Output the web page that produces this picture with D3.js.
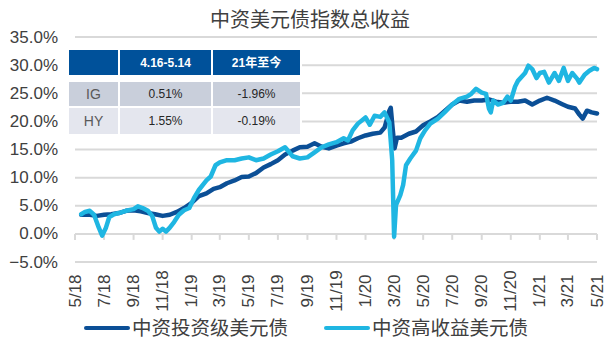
<!DOCTYPE html>
<html><head><meta charset="utf-8">
<script src="https://cdn.jsdelivr.net/npm/d3@7"></script>
<style>body{margin:0;background:#fff}svg{display:block}</style>
</head><body><svg id="c" width="613" height="341"></svg>
<script>
const title = "中资美元债指数总收益";
const seriesNames = ["中资投资级美元债", "中资高收益美元债"];
const yTicks = [-5, 0, 5, 10, 15, 20, 25, 30, 35];
const xTickLabels = ["5/18","7/18","9/18","11/18","1/19","3/19","5/19","7/19","9/19","11/19","1/20","3/20","5/20","7/20","9/20","11/20","1/21","3/21","5/21"];
const tableHeader = ["", "4.16-5.14", "21年至今"];
const tableRowIG = ["IG", "0.51%", "-1.96%"];
const tableRowHY = ["HY", "1.55%", "-0.19%"];

const igDates = ["2018-05-14","2018-06-01","2018-06-16","2018-07-01","2018-07-16","2018-08-01","2018-08-16","2018-09-01","2018-09-16","2018-10-01","2018-10-16","2018-11-01","2018-11-16","2018-12-01","2018-12-16","2019-01-01","2019-01-16","2019-02-01","2019-02-16","2019-03-01","2019-03-16","2019-04-01","2019-04-16","2019-05-01","2019-05-16","2019-06-01","2019-06-16","2019-07-01","2019-07-16","2019-08-01","2019-08-16","2019-09-01","2019-09-16","2019-10-01","2019-10-16","2019-11-01","2019-11-16","2019-12-01","2019-12-16","2020-01-01","2020-01-16","2020-02-01","2020-02-10","2020-02-20","2020-02-23","2020-02-27","2020-03-02","2020-03-07","2020-03-16","2020-04-01","2020-04-16","2020-05-01","2020-05-16","2020-06-01","2020-06-16","2020-07-01","2020-07-16","2020-08-01","2020-08-16","2020-09-01","2020-09-16","2020-10-01","2020-10-16","2020-11-01","2020-11-16","2020-12-01","2020-12-16","2021-01-01","2021-01-16","2021-02-01","2021-02-16","2021-03-01","2021-03-16","2021-03-25","2021-04-01","2021-04-10","2021-04-20","2021-05-01"];
const igValues = [3.4,3.4,3.2,3.4,3.5,3.7,4.1,4.2,4.0,3.7,3.5,3.2,3.4,3.9,4.6,5.5,6.7,7.2,8.0,8.3,9.0,9.5,10.1,10.2,10.8,11.8,12.4,13.1,14.1,14.8,15.4,15.5,16.1,15.5,15.2,15.7,16.1,16.4,17.0,17.5,17.8,18.0,18.9,21.9,22.4,18.7,15.2,17.1,17.1,17.8,18.2,19.3,20.0,20.8,21.9,23.0,23.7,23.5,23.7,23.7,23.9,23.5,23.3,23.5,23.5,23.7,23.0,23.7,24.2,23.7,23.1,22.6,22.3,21.2,20.5,21.9,21.6,21.4];

const hyDates = ["2018-05-14","2018-05-22","2018-06-01","2018-06-10","2018-06-20","2018-06-27","2018-07-05","2018-07-12","2018-07-22","2018-08-01","2018-08-16","2018-09-01","2018-09-10","2018-09-20","2018-10-01","2018-10-10","2018-10-18","2018-10-25","2018-11-01","2018-11-08","2018-11-16","2018-11-25","2018-12-05","2018-12-16","2018-12-27","2019-01-06","2019-01-16","2019-02-01","2019-02-10","2019-02-20","2019-03-01","2019-03-16","2019-04-01","2019-04-16","2019-05-01","2019-05-16","2019-06-01","2019-06-16","2019-07-01","2019-07-16","2019-08-01","2019-08-16","2019-09-01","2019-09-16","2019-10-01","2019-10-16","2019-11-01","2019-11-16","2019-11-25","2019-12-05","2019-12-16","2020-01-01","2020-01-10","2020-01-20","2020-02-01","2020-02-10","2020-02-20","2020-02-26","2020-03-01","2020-03-05","2020-03-14","2020-03-20","2020-03-26","2020-04-04","2020-04-16","2020-04-25","2020-05-05","2020-05-16","2020-06-01","2020-06-16","2020-07-01","2020-07-16","2020-08-01","2020-08-10","2020-08-20","2020-09-01","2020-09-10","2020-09-16","2020-09-20","2020-09-25","2020-10-05","2020-10-16","2020-10-25","2020-11-01","2020-11-10","2020-11-16","2020-12-01","2020-12-08","2020-12-16","2020-12-25","2021-01-01","2021-01-10","2021-01-20","2021-02-01","2021-02-10","2021-02-20","2021-03-01","2021-03-10","2021-03-20","2021-03-25","2021-04-05","2021-04-15","2021-04-25","2021-05-01"];
const hyValues = [3.5,3.9,4.1,3.4,1.1,-0.3,1.1,3.0,3.5,3.7,4.1,4.4,4.9,4.6,4.1,3.2,1.1,0.4,0.9,0.4,1.1,2.1,3.4,4.2,4.6,6.4,7.8,9.5,10.2,12.2,12.7,13.1,13.1,13.4,13.6,13.1,13.4,14.1,14.7,15.4,13.8,13.4,13.6,14.5,15.4,15.9,16.3,17.0,16.6,18.4,19.6,20.7,19.4,21.0,20.8,21.6,19.8,13.1,-0.5,5.1,6.9,8.7,12.2,13.4,14.8,17.0,18.4,19.6,20.5,21.7,23.0,24.0,24.4,24.9,25.8,25.1,24.9,22.3,21.6,23.7,23.0,23.3,24.4,23.7,26.2,27.2,28.6,29.9,29.3,27.7,28.6,28.8,26.9,28.6,27.2,29.5,27.2,28.6,27.6,26.9,28.3,29.0,29.5,29.3];

const colors = ["#0b4f96", "#1fb6e2"];
const parse = d3.timeParse("%Y-%m-%d");
const svg = d3.select("#c");
const font = "'Liberation Sans', Arial, sans-serif";
const cjk = "'Noto Sans CJK SC', sans-serif";

const x = d3.scaleTime().domain([parse("2018-05-01"), parse("2021-05-01")]).range([75, 597]);
const y = d3.scaleLinear().domain([-5, 35]).range([262, 37]);
const xTickDates = xTickLabels.map(s => { const [m, yy] = s.split("/"); return new Date(2000 + +yy, +m - 1, 1); });

svg.append("text").attr("x", 310).attr("y", 18).attr("text-anchor", "middle").attr("dominant-baseline", "central")
  .attr("font-family", cjk).attr("font-size", 20).attr("fill", "#404040").text(title);

svg.append("g").selectAll("line").data(yTicks).join("line")
  .attr("x1", 75).attr("x2", 597).attr("y1", d => y(d)).attr("y2", d => y(d))
  .attr("stroke", "#d9d9d9").attr("stroke-width", 2);

svg.append("g").selectAll("text").data(yTicks).join("text")
  .attr("x", 58).attr("y", d => y(d)).attr("text-anchor", "end").attr("dominant-baseline", "central")
  .attr("font-family", font).attr("font-size", 17).attr("fill", "#404040")
  .text(d => d3.format(".1f")(d) + "%");

svg.append("g").selectAll("line").data(xTickDates).join("line")
  .attr("x1", d => x(d)).attr("x2", d => x(d)).attr("y1", y(0)).attr("y2", y(0) + 6)
  .attr("stroke", "#d9d9d9").attr("stroke-width", 2);

svg.append("g").selectAll("text").data(xTickDates).join("text")
  .attr("transform", d => `translate(${x(d)},291) rotate(-90)`)
  .attr("text-anchor", "middle").attr("dominant-baseline", "central")
  .attr("font-family", font).attr("font-size", 17).attr("fill", "#404040")
  .text((d, i) => xTickLabels[i]);

const line = d3.line().x(d => x(d[0])).y(d => y(d[1])).curve(d3.curveLinear);
const igData = igDates.map((d, i) => [parse(d), igValues[i]]);
const hyData = hyDates.map((d, i) => [parse(d), hyValues[i]]);
[igData, hyData].forEach((data, i) => {
  svg.append("path").datum(data).attr("d", line).attr("fill", "none")
    .attr("stroke", colors[i]).attr("stroke-width", 4.5)
    .attr("stroke-linejoin", "round").attr("stroke-linecap", "round");
});

const tbl = svg.append("g");
tbl.append("rect").attr("x", 67).attr("y", 48).attr("width", 235).attr("height", 89).attr("fill", "#fff");
const colX = [[69, 118], [120, 211], [213, 300]];
const rows = [
  {cells: tableHeader, y0: 50, y1: 75, bg: "#00519a", color: "#fff", weight: "bold", size: 12},
  {cells: tableRowIG, y0: 82, y1: 106, bg: "#c9cfdb", color: "#262626", weight: "normal", size: 12},
  {cells: tableRowHY, y0: 108, y1: 134, bg: "#e4e6ee", color: "#262626", weight: "normal", size: 12}
];
rows.forEach(r => {
  r.cells.forEach((c, j) => {
    tbl.append("rect").attr("x", colX[j][0]).attr("y", r.y0).attr("width", colX[j][1] - colX[j][0])
      .attr("height", r.y1 - r.y0).attr("fill", r.bg);
    tbl.append("text").attr("x", (colX[j][0] + colX[j][1]) / 2).attr("y", (r.y0 + r.y1) / 2)
      .attr("text-anchor", "middle").attr("dominant-baseline", "central")
      .attr("font-family", j === 0 ? font : "'Liberation Sans', 'Noto Sans CJK SC', sans-serif")
      .attr("font-size", j === 0 ? 14 : r.size).attr("font-weight", r.weight)
      .attr("fill", j === 0 ? "#595959" : r.color).text(c);
  });
});

const legX = [86, 326];
seriesNames.forEach((n, i) => {
  svg.append("line").attr("x1", legX[i]).attr("x2", legX[i] + 42).attr("y1", 328).attr("y2", 328)
    .attr("stroke", colors[i]).attr("stroke-width", 4).attr("stroke-linecap", "round");
  svg.append("text").attr("x", legX[i] + 46).attr("y", 326).attr("dominant-baseline", "central")
    .attr("font-family", cjk).attr("font-size", 19.5).attr("fill", "#404040").text(n);
});
</script></body></html>
